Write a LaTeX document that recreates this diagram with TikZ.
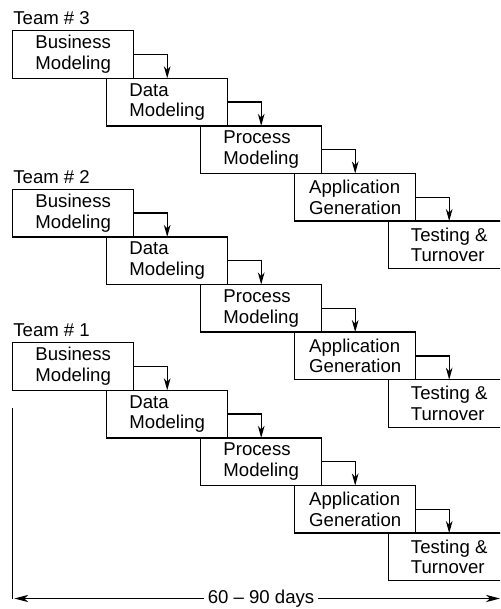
\documentclass[tikz,border=0pt]{standalone}
\usepackage{fontspec}
\setmainfont{Liberation Sans}
\usetikzlibrary{positioning,arrows.meta}
\tikzset{
    phase-box/.style = {draw, rectangle, align=left, minimum width=60.5pt, minimum height=23.8pt, inner sep=0pt, outer sep=0pt},
    team-label/.style = {inner sep=0pt},
    flow-arrow/.style = {-{Stealth[length=6pt, width=3.3pt, inset=1.8pt]}},
    span-arrow/.style = {{Stealth[length=7pt, width=3.6pt, inset=2pt]}-{Stealth[length=7pt, width=3.6pt, inset=2pt]}},
}

\begin{document}
\begin{tikzpicture}[x=0.5pt, y=-0.5pt, line width=0.65pt, font=\fontsize{9.3pt}{10.4pt}\selectfont]
\useasboundingbox (0,0) rectangle (500,609);
\clip (0,0) rectangle (500,609);
\foreach \t/\top in {3/30.7, 2/189.3, 1/342.7}{
    \node[phase-box, anchor=north west] (b\t) at (12.7,\top) {Business\\Modeling};
    \node[phase-box, below right=0pt and -13.5pt of b\t] (d\t) {Data\\Modeling};
    \node[phase-box, below right=0pt and -13.5pt of d\t] (p\t) {Process\\Modeling};
    \node[phase-box, below right=0pt and -13.5pt of p\t] (a\t) {Application\\Generation};
    \node[phase-box, below right=0pt and -13.5pt of a\t] (t\t) {Testing \&\\Turnover};
    \node[team-label, anchor=base west] (team\t) at ([yshift=2.9pt]b\t.north west) {Team \# \t};
    \draw[flow-arrow] (b\t.east) -| (d\t.north);
    \draw[flow-arrow] (d\t.east) -| (p\t.north);
    \draw[flow-arrow] (p\t.east) -| (a\t.north);
    \draw[flow-arrow] (a\t.east) -| (t\t.north);
}
% time span
\coordinate (span-top) at (12.7,408);
\coordinate (span-corner) at (12.7,598.5);
\coordinate (span-end) at (500,598.5);
\draw (span-top) -- (span-corner);
\draw[span-arrow] ([xshift=0.8pt]span-corner) -- (span-end) node[pos=0.508, fill=white, inner sep=2pt] (span) {60 – 90 days};
\end{tikzpicture}
\end{document}
